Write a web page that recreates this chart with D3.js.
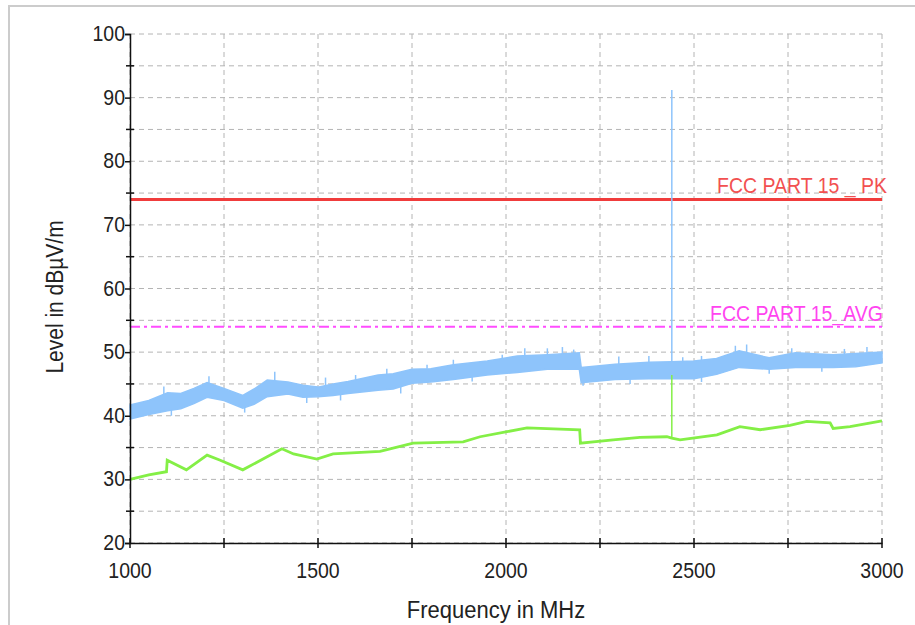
<!DOCTYPE html>
<html>
<head>
<meta charset="utf-8">
<script src="https://cdn.jsdelivr.net/npm/d3@7"></script>
<style>
  body { margin: 0; background: #fff; }
  text { font-family: "Liberation Sans", Arial, sans-serif; }
</style>
</head>
<body>
<div id="root"></div>
<script>
// limits
const pkLimit = 74, avgLimit = 54;
const pkLabel = "FCC PART 15 _ PK", avgLabel = "FCC PART 15_AVG";

// peak trace, read as a band (low / high edge)
const blueFreq = [1000, 1050, 1100, 1135, 1170, 1205, 1250, 1300, 1330, 1365, 1420, 1460, 1500, 1540, 1580, 1660, 1700, 1750, 1800, 1860, 1950, 2030, 2110, 2195, 2200, 2290, 2380, 2440, 2500, 2560, 2620, 2700, 2770, 2870, 2930, 3000];
const blueLow  = [39.5, 40.2, 40.8, 41.1, 41.9, 42.9, 42.4, 41.2, 41.8, 43.0, 43.4, 42.9, 43.0, 43.2, 43.5, 44.0, 44.2, 45.1, 45.3, 45.7, 46.4, 46.8, 47.3, 47.3, 45.2, 45.7, 45.8, 45.8, 45.8, 46.5, 47.6, 47.3, 47.6, 47.6, 47.7, 48.3];
const blueHigh = [41.7, 42.4, 43.6, 43.5, 44.3, 45.2, 44.3, 43.2, 44.2, 45.6, 45.3, 44.8, 44.5, 45.0, 45.4, 46.4, 46.6, 47.3, 47.4, 48.0, 48.6, 49.4, 49.6, 49.9, 47.6, 48.1, 48.4, 48.5, 48.6, 49.0, 50.2, 49.1, 49.9, 49.6, 49.8, 50.0];

// little spikes sticking out of the peak trace
const spikeFreq = [1090, 1210, 1385, 1520, 1600, 1683, 1790, 1860, 1990, 2050, 2110, 2150, 2180, 2300, 2380, 2470, 2520, 2610, 2640, 2760, 2900, 2960];
const spikeTop  = [44.6, 46.2, 46.9, 46.0, 46.4, 47.4, 48.0, 48.8, 49.6, 50.6, 50.6, 50.8, 50.4, 49.3, 49.4, 49.2, 49.4, 51.0, 51.2, 50.6, 50.5, 50.8];
const dipFreq = [1110, 1305, 1470, 1560, 1720, 1910, 2205, 2330, 2520, 2700, 2840];
const dipBot  = [40.0, 40.5, 42.0, 42.4, 43.5, 45.4, 44.7, 45.0, 45.3, 46.6, 46.9];

// average trace
const greenFreq = [1000, 1050, 1097, 1099, 1150, 1205, 1240, 1300, 1404, 1435, 1497, 1540, 1665, 1753, 1886, 1931, 2003, 2056, 2196, 2198, 2285, 2356, 2428, 2441, 2463, 2497, 2561, 2622, 2676, 2755, 2800, 2862, 2870, 2915, 3000];
const greenVal  = [30.0, 30.7, 31.2, 33.0, 31.5, 33.8, 33.0, 31.5, 34.8, 34.0, 33.2, 34.0, 34.4, 35.7, 35.9, 36.7, 37.5, 38.1, 37.8, 35.7, 36.2, 36.6, 36.7, 36.5, 36.2, 36.5, 37.0, 38.3, 37.8, 38.5, 39.1, 38.9, 38.0, 38.3, 39.2];

// carrier at 2441 MHz
const carrierFreq = 2441, carrierPk = 91.2, carrierAvg = 46.4;

const xTicks = [1000, 1500, 2000, 2500, 3000];
const xMinor = d3.range(1000, 3001, 250);
const yTicks = [20, 30, 40, 50, 60, 70, 80, 90, 100];
const yMinor = d3.range(20, 101, 5);

const W = 915, H = 625;
const blueCol = "#8ec4fb", greenCol = "#84ef46";
const x = d3.scaleLinear().domain([1000, 3000]).range([130, 882]);
const y = d3.scaleLinear().domain([20, 100]).range([543, 34]);

const svg = d3.select("#root").append("svg")
    .attr("width", W).attr("height", H);

// outer frame
svg.append("path")
    .attr("d", "M9," + (H + 5) + "V6H" + (W + 5))
    .attr("fill", "none").attr("stroke", "#cccccc").attr("stroke-width", 2);

// grid
svg.append("g").selectAll("line").data(yMinor).enter().append("line")
    .attr("x1", x(1000)).attr("x2", x(3000))
    .attr("y1", d => y(d)).attr("y2", d => y(d))
    .attr("stroke", "#b4b4b4").attr("stroke-width", 1).attr("stroke-dasharray", "5,4");
svg.append("g").selectAll("line").data(xMinor).enter().append("line")
    .attr("x1", d => x(d)).attr("x2", d => x(d))
    .attr("y1", y(20)).attr("y2", y(100))
    .attr("stroke", "#b4b4b4").attr("stroke-width", 1).attr("stroke-dasharray", "5,4");

// limit lines
svg.append("line")
    .attr("x1", x(1000)).attr("x2", x(3000))
    .attr("y1", y(pkLimit)).attr("y2", y(pkLimit))
    .attr("stroke", "#f03c3c").attr("stroke-width", 3);
svg.append("line")
    .attr("x1", x(1000)).attr("x2", x(3000))
    .attr("y1", y(avgLimit)).attr("y2", y(avgLimit))
    .attr("stroke", "#ff4cff").attr("stroke-width", 2).attr("stroke-dasharray", "10,4,3,4");

// text is a bit taller than wide in the original, so stretch it
function tallText(g, px, py, size, anchor, color, str) {
    g.append("text")
        .attr("transform", "translate(" + px + "," + py + ")scale(1,1.12)")
        .attr("text-anchor", anchor).attr("font-size", size)
        .attr("fill", color).text(str);
}
tallText(svg, x(3000) + 5, y(pkLimit) - 6, 19.5, "end", "#f25050", pkLabel);
tallText(svg, x(3000) + 1, y(avgLimit) - 6, 19.5, "end", "#ff44f0", avgLabel);

// peak trace
const blue = blueFreq.map((f, i) => ({f: f, lo: blueLow[i], hi: blueHigh[i]}));
const band = d3.area()
    .x(d => x(d.f))
    .y0(d => y(d.lo))
    .y1(d => y(d.hi));
svg.append("path").datum(blue)
    .attr("d", band)
    .attr("fill", blueCol).attr("stroke", blueCol).attr("stroke-width", 1.5);

// spikes on the band
const bandHi = d3.scaleLinear().domain(blueFreq).range(blueHigh);
const bandLo = d3.scaleLinear().domain(blueFreq).range(blueLow);
svg.append("g").selectAll("line").data(spikeFreq).enter().append("line")
    .attr("x1", d => x(d)).attr("x2", d => x(d))
    .attr("y1", d => y(bandHi(d))).attr("y2", (d, i) => y(spikeTop[i]))
    .attr("stroke", blueCol).attr("stroke-width", 1.5);
svg.append("g").selectAll("line").data(dipFreq).enter().append("line")
    .attr("x1", d => x(d)).attr("x2", d => x(d))
    .attr("y1", d => y(bandLo(d))).attr("y2", (d, i) => y(dipBot[i]))
    .attr("stroke", blueCol).attr("stroke-width", 1.5);

svg.append("line")
    .attr("x1", x(carrierFreq)).attr("x2", x(carrierFreq))
    .attr("y1", y(bandHi(carrierFreq))).attr("y2", y(carrierPk))
    .attr("stroke", blueCol).attr("stroke-width", 1.5);

// average trace
const green = greenFreq.map((f, i) => ({f: f, v: greenVal[i]}));
svg.append("path").datum(green)
    .attr("d", d3.line().x(d => x(d.f)).y(d => y(d.v)))
    .attr("fill", "none").attr("stroke", greenCol).attr("stroke-width", 2.8);
svg.append("line")
    .attr("x1", x(carrierFreq)).attr("x2", x(carrierFreq))
    .attr("y1", y(36.6)).attr("y2", y(carrierAvg))
    .attr("stroke", greenCol).attr("stroke-width", 1.5);

// axes
const yAxis = d3.axisLeft(y).tickValues(yTicks).tickSize(5).tickFormat(() => "");
const gy = svg.append("g").attr("transform", "translate(" + x(1000) + ",0)").call(yAxis);
gy.select(".domain").attr("stroke", "#111").attr("stroke-width", 1.5);
gy.selectAll(".tick line").attr("stroke", "#111").attr("stroke-width", 1.5);
yTicks.forEach(d => tallText(svg, x(1000) - 5, y(d) + 7, 19.5, "end", "#222", d));

svg.append("g").selectAll("line").data(yMinor.filter(d => d % 10 !== 0)).enter().append("line")
    .attr("x1", x(1000) - 4).attr("x2", x(1000) + 4)
    .attr("y1", d => y(d)).attr("y2", d => y(d))
    .attr("stroke", "#111").attr("stroke-width", 1.5);

const xAxis = d3.axisBottom(x).tickValues(xTicks).tickSize(0).tickFormat(() => "");
const gx = svg.append("g").attr("transform", "translate(0," + y(20) + ")").call(xAxis);
gx.select(".domain").attr("stroke", "#111").attr("stroke-width", 1.5);
xTicks.forEach(d => tallText(svg, x(d), 578, 19.5, "middle", "#222", d));

svg.append("g").selectAll("line").data(xMinor).enter().append("line")
    .attr("x1", d => x(d)).attr("x2", d => x(d))
    .attr("y1", y(20) - 5).attr("y2", y(20) + 5)
    .attr("stroke", "#111").attr("stroke-width", 1.5);

// axis titles
tallText(svg, 496, 618, 22, "middle", "#222", "Frequency in MHz");
svg.append("text")
    .attr("transform", "translate(63,297)rotate(-90)scale(1,1.12)")
    .attr("text-anchor", "middle").attr("font-size", 21).attr("fill", "#222")
    .text("Level in dBµV/m");
</script>
</body>
</html>
